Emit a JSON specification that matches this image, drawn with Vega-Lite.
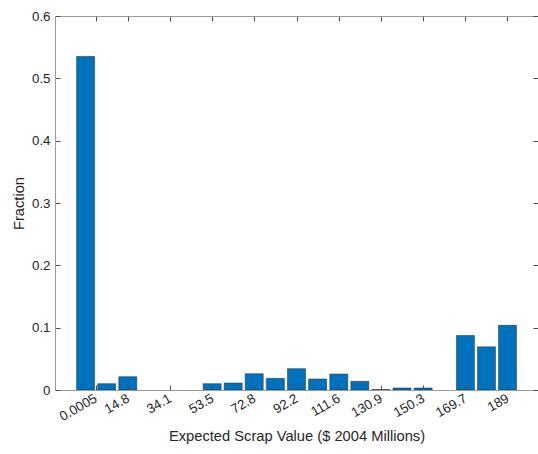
{
  "$schema": "https://vega.github.io/schema/vega-lite/v6.json",
  "width": 483,
  "height": 374,
  "autosize": {"type": "none"},
  "padding": {"left": 55, "top": 16, "right": 0, "bottom": 64},
  "background": "white",
  "config": {
    "view": {"stroke": null},
    "axis": {"labelFont": "Liberation Sans", "titleFont": "Liberation Sans", "labelFontSize": 13.3, "titleFontSize": 14.7, "titleFontWeight": "normal", "labelColor": "#262626", "titleColor": "#262626", "domainColor": "#9a9a9a", "tickColor": "#4d4d4d", "grid": false}
  },
  "data": {"values": [
    {"value": -4.55, "fraction": 0.535},
    {"value": 5.12, "fraction": 0.0101},
    {"value": 14.8, "fraction": 0.0213},
    {"value": 24.47, "fraction": 0},
    {"value": 34.1, "fraction": 0},
    {"value": 43.8, "fraction": 0},
    {"value": 53.5, "fraction": 0.0101},
    {"value": 63.15, "fraction": 0.0112},
    {"value": 72.8, "fraction": 0.0261},
    {"value": 82.5, "fraction": 0.0187},
    {"value": 92.2, "fraction": 0.0342},
    {"value": 101.9, "fraction": 0.0176},
    {"value": 111.6, "fraction": 0.0256},
    {"value": 121.25, "fraction": 0.0139},
    {"value": 130.9, "fraction": 0.0008},
    {"value": 140.6, "fraction": 0.0032},
    {"value": 150.3, "fraction": 0.0032},
    {"value": 160.0, "fraction": 0},
    {"value": 169.7, "fraction": 0.0875},
    {"value": 179.35, "fraction": 0.0693},
    {"value": 189, "fraction": 0.1037}
  ]},
  "layer": [
    {
      "mark": {"type": "bar", "width": 18, "color": "#0072BD", "stroke": "#262626", "strokeWidth": 0.5},
      "encoding": {
        "x": {"field": "value", "type": "quantitative",
          "scale": {"domain": [-16.3, 200.7], "nice": false, "zero": false},
          "axis": {"orient": "bottom", "values": [0.0005, 14.8, 34.1, 53.5, 72.8, 92.2, 111.6, 130.9, 150.3, 169.7, 189], "labelExpr": "datum.value", "labelAngle": -30, "labelAlign": "right", "labelBaseline": "middle", "tickSize": -5, "labelPadding": 12, "title": "Expected Scrap Value ($ 2004 Millions)", "titlePadding": 6, "zindex": 1, "labelFlush": false, "labelOverlap": false}},
        "y": {"field": "fraction", "type": "quantitative",
          "scale": {"domain": [0, 0.6], "nice": false},
          "axis": {"orient": "left", "values": [0, 0.1, 0.2, 0.3, 0.4, 0.5, 0.6], "format": ".1~f", "tickSize": -5, "labelPadding": 10, "title": "Fraction", "titlePadding": 5, "zindex": 1, "labelFlush": false}},
        "strokeOpacity": {"condition": {"test": "datum.fraction == 0", "value": 0}, "value": 1}
      }
    },
    {
      "mark": {"type": "bar", "width": 18, "opacity": 0},
      "encoding": {
        "x": {"field": "value", "type": "quantitative",
          "axis": {"orient": "top", "values": [0.0005, 14.8, 34.1, 53.5, 72.8, 92.2, 111.6, 130.9, 150.3, 169.7, 189], "labels": false, "tickSize": -5, "title": null, "zindex": 1}},
        "y": {"field": "fraction", "type": "quantitative",
          "axis": {"orient": "right", "values": [0, 0.1, 0.2, 0.3, 0.4, 0.5, 0.6], "labels": false, "tickSize": -5, "title": null, "zindex": 1}}
      }
    }
  ],
  "resolve": {"axis": {"x": "independent", "y": "independent"}}
}
